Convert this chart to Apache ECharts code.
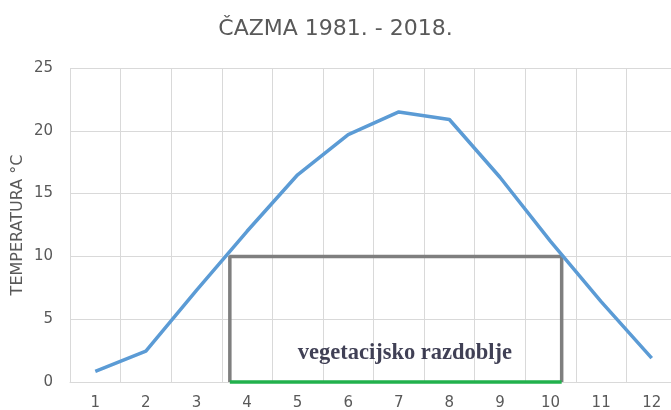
<!DOCTYPE html>
<html>
<head>
<meta charset="utf-8">
<title>Čazma 1981. - 2018.</title>
<script src="https://cdn.jsdelivr.net/npm/echarts@6/dist/echarts.min.js"></script>
<style>
  html, body { margin: 0; padding: 0; background: #fff; }
  #chart { width: 671px; height: 410px; }
</style>
</head>
<body>
<div id="chart"></div>
<script>
// mjeseci i srednje mjesečne temperature (očitano sa slike)
const months = ['1', '2', '3', '4', '5', '6', '7', '8', '9', '10', '11', '12'];
const temps = [0.85, 2.45, 7.3, 12.0, 16.5, 19.7, 21.5, 20.9, 16.3, 11.2, 6.4, 1.9];

// vegetacijsko razdoblje: početak / kraj (u mjesecima) i prag od 10 °C
const vegStart = 3.66;
const vegEnd = 10.22;
const vegThreshold = 10;
const vegLabel = 'vegetacijsko razdoblje';
const vegLabelPos = [7.12, 2.3];

const yTicks = [0, 25, 5]; // min, max, korak

const myChart = echarts.init(document.getElementById('chart'));

const option = {
  animation: false,
  backgroundColor: '#fff',
  title: {
    text: 'ČAZMA 1981. - 2018.',
    left: 'center',
    top: 18,
    padding: 0,
    textStyle: {
      fontFamily: 'DejaVu Sans',
      fontSize: 22,
      fontWeight: 'normal',
      color: '#595959'
    }
  },
  grid: {
    left: 70,
    right: -6,
    top: 68,
    bottom: 28,
    outerBoundsMode: 'none'
  },
  xAxis: [
    {
      type: 'category',
      data: months,
      boundaryGap: true,
      axisLine: { show: true, lineStyle: { color: '#d9d9d9', width: 1 } },
      axisTick: { show: false },
      axisLabel: {
        margin: 14,
        fontFamily: 'DejaVu Sans',
        fontSize: 15,
        color: '#595959'
      },
      splitLine: { show: true, interval: 0, lineStyle: { color: '#d9d9d9', width: 1 } }
    },
    {
      // pomoćna os za okvir vegetacijskog razdoblja
      type: 'value',
      min: 0.5,
      max: 12.5,
      show: false
    }
  ],
  yAxis: {
    type: 'value',
    min: yTicks[0],
    max: yTicks[1],
    interval: yTicks[2],
    name: 'TEMPERATURA °C',
    nameLocation: 'middle',
    nameGap: 44,
    nameMoveOverlap: false,
    nameTextStyle: {
      fontFamily: 'DejaVu Sans',
      fontSize: 16,
      color: '#595959'
    },
    axisLine: { show: false },
    axisTick: { show: false },
    axisLabel: {
      margin: 17,
      fontFamily: 'DejaVu Sans',
      fontSize: 15,
      color: '#595959'
    },
    splitLine: { lineStyle: { color: '#d9d9d9', width: 1 } }
  },
  series: [
    {
      name: 'okvir',
      type: 'line',
      xAxisIndex: 1,
      data: [[vegStart, 0], [vegStart, vegThreshold], [vegEnd, vegThreshold], [vegEnd, 0]],
      symbol: 'none',
      clip: false,
      lineStyle: { color: '#7f7f7f', width: 3.5 },
      z: 3
    },
    {
      name: 'razdoblje',
      type: 'line',
      xAxisIndex: 1,
      data: [[vegStart, 0], [vegEnd, 0]],
      symbol: 'none',
      clip: false,
      lineStyle: { color: '#22b14c', width: 3.5 },
      z: 4
    },
    {
      name: 'natpis',
      type: 'scatter',
      xAxisIndex: 1,
      data: [vegLabelPos],
      symbolSize: 0,
      label: {
        show: true,
        position: 'inside',
        formatter: vegLabel,
        fontFamily: 'Liberation Serif',
        fontWeight: 'bold',
        fontSize: 22.5,
        color: '#10102a'
      },
      z: 5
    },
    {
      name: 'temperatura',
      type: 'line',
      data: temps,
      symbol: 'none',
      lineStyle: { color: '#5b9bd5', width: 3.5 },
      z: 6
    }
  ]
};

myChart.setOption(option);
</script>
</body>
</html>
